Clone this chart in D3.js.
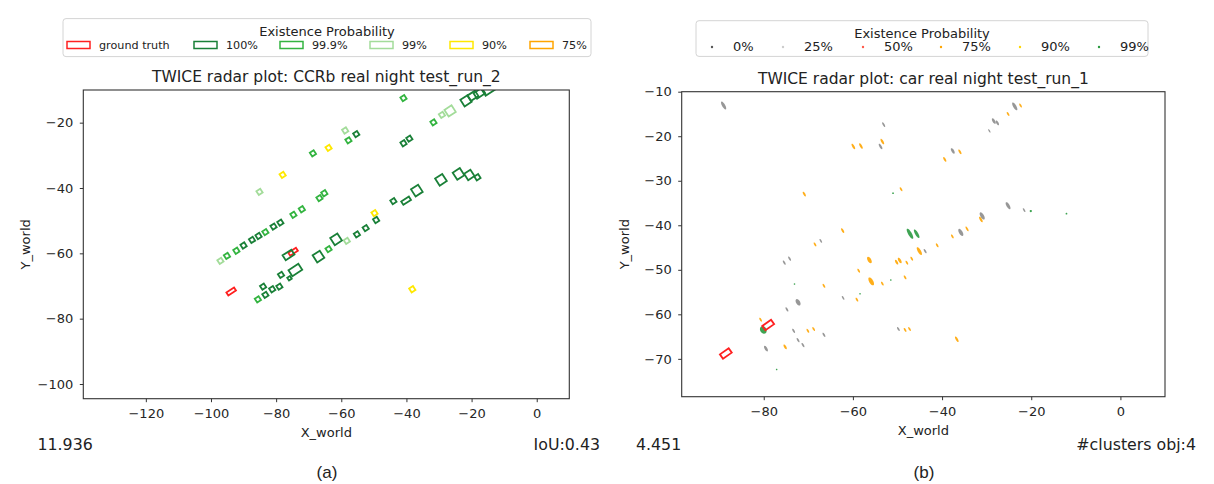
<!DOCTYPE html>
<html><head><meta charset="utf-8">
<script src="https://cdn.jsdelivr.net/npm/d3@7"></script>
<style>
body{margin:0;background:#fff;}
svg{display:block;font-family:"DejaVu Sans",sans-serif;}
</style></head><body>
<svg id="fig" width="1214" height="484"></svg>
<script>
// ---------- Panel (a): tracked object boxes ----------
const aTitle = "TWICE radar plot: CCRb real night test_run_2";
const aXTicks = [-120, -100, -80, -60, -40, -20, 0];
const aYTicks = [-100, -80, -60, -40, -20];
const aClasses = ["ground truth", "100%", "99.9%", "99%", "90%", "75%"];
// box centres (m), length/width (m), class index into aClasses
const boxX = [-40.9,-21.7,-19.6,-17.6,-14.8,-26.6,-29.1,-31.7,-58.8,-55.4,-57.8,-63.9,-68.7,-40.9,-39.1,-78.0,-85.1,-65.2,-66.7,-72.1,-74.7,-78.7,-80.8,-49.8,-49.3,-44.0,-40.1,-36.8,-29.4,-24.0,-20.7,-18.2,-52.5,-55.2,-58.3,-61.6,-63.9,-67.0,-83.3,-85.4,-87.4,-90.0,-92.2,-95.1,-97.1,-76.2,-74.8,-78.5,-74.1,-75.9,-84.0,-79.0,-81.2,-83.3,-85.6,-93.8,-38.2];
const boxY = [-12.5,-13.3,-11.8,-11.0,-10.0,-16.4,-17.6,-19.9,-22.4,-23.5,-25.4,-27.7,-29.4,-26.3,-24.9,-36.0,-41.2,-41.6,-43.1,-46.5,-48.2,-50.6,-51.8,-47.7,-49.8,-44.0,-43.9,-40.8,-37.5,-35.7,-36.0,-36.7,-52.3,-54.2,-56.2,-55.7,-58.7,-61.0,-53.5,-54.7,-55.9,-57.6,-59.2,-60.8,-62.3,-60.5,-59.5,-66.6,-65.1,-67.6,-70.2,-70.2,-71.0,-72.7,-74.1,-71.7,-71.0];
const boxLen = [1.4,2.6,2.8,3.0,3.4,2.6,1.4,1.4,1.4,1.4,1.4,1.4,1.4,1.4,1.4,1.4,1.4,1.4,1.4,1.4,1.4,1.4,1.4,1.4,1.4,1.4,2.8,2.6,2.6,2.6,2.3,1.4,1.4,1.4,1.4,2.6,1.4,2.6,1.4,1.4,1.4,1.4,1.4,1.4,1.4,3.2,2.8,1.4,3.6,1.0,1.4,1.4,1.4,1.4,1.4,2.8,1.4];
const boxWid = [1.4,2.4,2.0,2.0,2.0,2.4,1.4,1.4,1.4,1.4,1.4,1.4,1.4,1.4,1.4,1.4,1.4,1.4,1.4,1.4,1.4,1.4,1.4,1.4,1.4,1.4,1.2,2.6,2.6,2.6,2.3,1.4,1.4,1.4,1.4,2.6,1.4,2.6,1.4,1.4,1.4,1.4,1.4,1.4,1.4,1.8,1.1,1.4,2.2,1.0,1.4,1.4,1.4,1.4,1.4,1.1,1.4];
const boxCls = [2,1,1,1,1,3,3,2,3,1,2,4,2,1,1,4,3,2,2,2,2,1,1,4,1,1,1,1,1,1,1,1,1,1,3,1,2,1,2,1,1,1,2,2,3,1,0,1,1,1,1,1,1,1,2,0,4];
const aHeading = 33; // degrees, lane direction

// ---------- Panel (b): radar cluster ellipses ----------
const bTitle = "TWICE radar plot: car real night test_run_1";
const bXTicks = [-80, -60, -40, -20, 0];
const bYTicks = [-70, -60, -50, -40, -30, -20, -10];
const bClasses = ["0%", "25%", "50%", "75%", "90%", "99%"];
const ellX = [-89.0,-53.1,-53.8,-37.6,-28.4,-27.6,-29.4,-23.7,-25.2,-21.6,-31.0,-35.8,-67.2,-75.4,-74.2,-43.8,-62.2,-72.3,-74.8,-73.3,-66.5,-72.3,-71.2,-79.5,-49.8,
  -59.9,-58.2,-53.4,-39.4,-36.0,-25.2,-22.4,-70.9,-49.2,-62.3,-31.3,-34.4,-37.7,-68.5,-56.3,-49.5,-50.2,-47.9,-46.8,-45.1,-41.1,-58.7,-55.9,-53.4,-48.3,-59.1,-66.5,-80.7,-70.1,-68.8,-75.2,-48.3,-47.3,-36.7,
  -51.0,-20.1,-12.1,-47.2,-45.7,-51.5,-58.4,-73.1,-80.1,-77.1];
const ellY = [-13.1,-17.4,-22.3,-23.3,-16.6,-17.0,-18.8,-13.3,-35.6,-36.6,-37.9,-41.6,-43.5,-48.4,-47.5,-45.8,-56.3,-57.3,-58.9,-63.7,-64.6,-65.8,-66.9,-67.7,-63.3,
  -22.3,-22.2,-21.2,-25.2,-23.5,-15.0,-13.1,-33.0,-31.9,-41.2,-38.7,-40.8,-42.5,-44.3,-47.8,-47.9,-48.3,-48.4,-47.5,-45.8,-44.5,-50.2,-52.6,-53.1,-51.7,-56.7,-53.6,-61.2,-63.7,-63.3,-67.3,-63.5,-63.3,-65.6,
  -32.8,-36.8,-37.4,-41.9,-41.9,-52.3,-55.4,-53.2,-63.5,-72.4];
const ellLen = [2.0,1.2,1.4,1.4,1.4,1.2,0.9,2.0,1.8,1.0,1.8,1.8,1.0,1.1,1.1,1.1,1.0,1.6,1.1,1.1,1.1,1.1,1.1,1.4,1.0,
  1.4,1.4,1.4,1.2,1.2,1.0,1.0,1.2,1.0,1.2,1.4,1.2,1.0,1.0,1.6,1.4,1.2,1.0,1.0,2.0,1.0,1.0,2.0,1.0,1.0,1.0,1.0,1.0,1.0,1.0,1.2,1.0,1.0,1.4,
  0.4,0.5,0.4,2.6,2.2,0.35,0.35,0.35,1.8,0.35];
const ellWid = [0.7,0.4,0.5,0.6,0.6,0.5,0.3,0.7,0.7,0.35,0.8,0.8,0.35,0.4,0.4,0.4,0.35,0.9,0.4,0.4,0.4,0.4,0.4,0.6,0.4,
  0.5,0.5,0.5,0.45,0.45,0.4,0.4,0.45,0.4,0.45,0.5,0.4,0.4,0.4,0.8,0.6,0.5,0.4,0.4,0.7,0.4,0.4,0.9,0.4,0.4,0.4,0.4,0.4,0.4,0.4,0.5,0.4,0.4,0.5,
  0.4,0.5,0.4,0.8,0.7,0.35,0.35,0.35,1.4,0.35];
const ellCls = [0,0,0,0,0,0,0,0,0,0,0,0,0,0,0,0,0,0,0,0,0,0,0,0,0,
  3,3,3,3,3,3,3,3,3,3,3,3,3,3,3,3,3,3,3,3,3,3,3,3,3,3,3,3,3,3,3,3,3,3,
  5,5,5,5,5,5,5,5,5,5];
const ellHeading = -60; // degrees
const gtX = [-79.0, -88.5];
const gtY = [-62.4, -68.8];
const gtLen = 2.4, gtWid = 1.2, gtHeading = 35;

const aColors = ["#ff2020", "#1a8038", "#33b440", "#a3dc9a", "#ffe800", "#ffa500"];
const bColors = ["#8c8c8c", "#d8d8d8", "#ff5a4a", "#ffa500", "#ffd700", "#2a9a40"];
const bLegendColors = ["#555555", "#cccccc", "#ff5a4a", "#ffa500", "#ffd700", "#2a9a40"];

const svg = d3.select("#fig");

// rotated rectangle corners in data space
function rectCorners(cx, cy, len, wid, deg) {
  const t = deg * Math.PI / 180, c = Math.cos(t), s = Math.sin(t);
  return [[len/2, wid/2], [-len/2, wid/2], [-len/2, -wid/2], [len/2, -wid/2]]
    .map(([u, v]) => [cx + u*c - v*s, cy + u*s + v*c]);
}
function ellipsePts(cx, cy, len, wid, deg) {
  const t = deg * Math.PI / 180, c = Math.cos(t), s = Math.sin(t);
  return d3.range(0, 2*Math.PI, Math.PI/18).map(a => {
    const u = len/2*Math.cos(a), v = wid/2*Math.sin(a);
    return [cx + u*c - v*s, cy + u*s + v*c];
  });
}

function drawAxes(g, x, y, xt, yt, title) {
  const [x0, x1] = x.range(), [y1, y0] = y.range();
  g.append("g").attr("transform", `translate(0,${y1})`)
    .call(d3.axisBottom(x).tickValues(xt).tickSize(3.5).tickPadding(6.5))
    .call(a => a.select(".domain").remove());
  g.append("g").attr("transform", `translate(${x0},0)`)
    .call(d3.axisLeft(y).tickValues(yt).tickSize(3.5).tickPadding(6.5))
    .call(a => a.select(".domain").remove());
  g.selectAll(".tick text").attr("font-size", 13).attr("fill", "#262626").attr("font-family", "DejaVu Sans");
  g.selectAll(".tick line").attr("stroke", "#333");
  g.append("rect").attr("x", x0).attr("y", y0).attr("width", x1 - x0).attr("height", y1 - y0)
    .attr("fill", "none").attr("stroke", "#333").attr("stroke-width", 1.1);
  g.append("text").attr("x", (x0 + x1) / 2).attr("y", y0 - 8).attr("text-anchor", "middle")
    .attr("font-size", 15.5).attr("fill", "#222").text(title);
  g.append("text").attr("x", (x0 + x1) / 2).attr("y", y1 + 38).attr("text-anchor", "middle")
    .attr("font-size", 13).attr("fill", "#222").text("X_world");
  g.append("text").attr("transform", `translate(${x0 - 53},${(y0 + y1) / 2}) rotate(-90)`)
    .attr("text-anchor", "middle").attr("font-size", 13).attr("fill", "#222").text("Y_world");
}

// ----- panel (a)
const aX = d3.scaleLinear().domain([-139.2, 10]).range([83.3, 569.3]);
const aY = d3.scaleLinear().domain([-104.5, -10]).range([398.7, 90]);
const ga = svg.append("g");
ga.append("clipPath").attr("id", "clipA").append("rect")
  .attr("x", 83.3).attr("y", 90).attr("width", 486).attr("height", 308.7);
const line = d3.line();
ga.append("g").attr("clip-path", "url(#clipA)")
  .selectAll("path").data(d3.range(boxX.length).sort((i, j) => (boxCls[j] === 0) - (boxCls[i] === 0) || 0))
  .join("path")
  .attr("d", i => line(rectCorners(boxX[i], boxY[i], boxLen[i], boxWid[i], aHeading).map(p => [aX(p[0]), aY(p[1])])) + "Z")
  .attr("fill", "none").attr("stroke", i => aColors[boxCls[i]]).attr("stroke-width", 1.8)
  .attr("stroke-linejoin", "miter");
drawAxes(ga, aX, aY, aXTicks, aYTicks, aTitle);

// ----- panel (b)
const bX = d3.scaleLinear().domain([-98.4, 10]).range([681.7, 1165]);
const bY = d3.scaleLinear().domain([-78.5, -10]).range([396.7, 91.7]);
const gb = svg.append("g");
gb.append("g").selectAll("path").data(d3.range(ellX.length)).join("path")
  .attr("d", i => line(ellipsePts(ellX[i], ellY[i], ellLen[i], ellWid[i], ellHeading).map(p => [bX(p[0]), bY(p[1])])) + "Z")
  .attr("fill", i => bColors[ellCls[i]]).attr("opacity", 0.9);
gb.append("g").selectAll("path").data(d3.range(gtX.length)).join("path")
  .attr("d", i => line(rectCorners(gtX[i], gtY[i], gtLen, gtWid, gtHeading).map(p => [bX(p[0]), bY(p[1])])) + "Z")
  .attr("fill", "none").attr("stroke", aColors[0]).attr("stroke-width", 1.8);
drawAxes(gb, bX, bY, bXTicks, bYTicks, bTitle);

// ----- legends
function legendFrame(x, y, w, h, cx) {
  svg.append("rect").attr("x", x).attr("y", y).attr("width", w).attr("height", h).attr("rx", 3)
    .attr("fill", "#fff").attr("stroke", "#d4d4d4");
  svg.append("text").attr("x", cx).attr("y", y + 17).attr("text-anchor", "middle")
    .attr("font-size", 13).attr("fill", "#222").text("Existence Probability");
}
legendFrame(63, 18.6, 528, 38, 327);
const aLegX = [67, 194, 280, 370, 450, 530];
aClasses.forEach((c, i) => {
  svg.append("rect").attr("x", aLegX[i]).attr("y", 41.5).attr("width", 23).attr("height", 7)
    .attr("fill", "none").attr("stroke", aColors[i]).attr("stroke-width", 1.5);
  svg.append("text").attr("x", aLegX[i] + 32).attr("y", 49).attr("font-size", 11.2).attr("fill", "#222").text(c);
});
legendFrame(696, 20.7, 452, 35.7, 922);
const bLegX = [712, 783, 863, 941, 1020, 1099];
bClasses.forEach((c, i) => {
  svg.append("circle").attr("cx", bLegX[i]).attr("cy", 47).attr("r", 1.2).attr("fill", bLegendColors[i]);
  svg.append("text").attr("x", bLegX[i] + 21).attr("y", 51).attr("font-size", 13).attr("fill", "#222").text(c);
});

// ----- annotations
const notes = [
  {x: 37.5, a: "start", t: "11.936"}, {x: 600, a: "end", t: "IoU:0.43"},
  {x: 636, a: "start", t: "4.451"}, {x: 1196, a: "end", t: "#clusters obj:4"}
];
notes.forEach(n => svg.append("text").attr("x", n.x).attr("y", 450).attr("text-anchor", n.a)
  .attr("font-size", 15.8).attr("fill", "#222").text(n.t));
[["(a)", 327], ["(b)", 924]].forEach(([t, x]) => svg.append("text").attr("x", x).attr("y", 478)
  .attr("text-anchor", "middle").attr("font-family", "Liberation Sans, Arial, sans-serif")
  .attr("font-size", 17).attr("fill", "#222").text(t));
</script></body></html>
